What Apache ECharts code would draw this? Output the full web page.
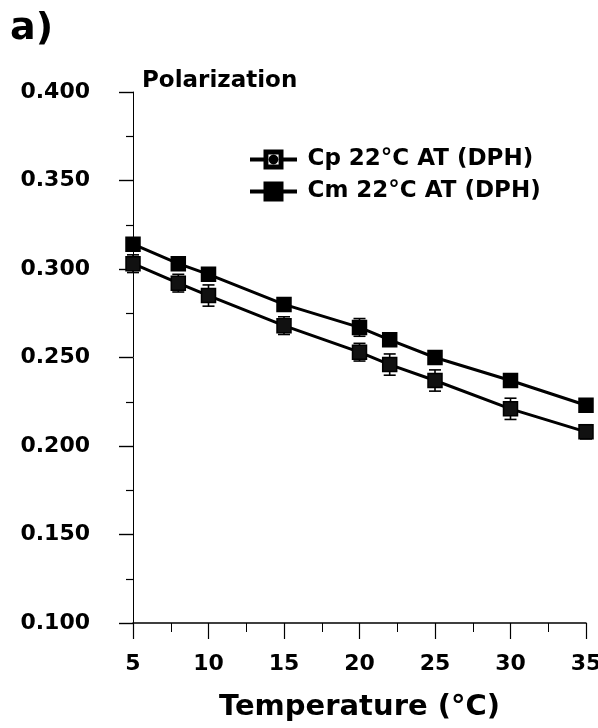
<!DOCTYPE html>
<html>
<head>
<meta charset="utf-8">
<script src="https://cdn.jsdelivr.net/npm/echarts@6/dist/echarts.min.js"></script>
<style>
  html, body { margin: 0; padding: 0; background: #fff; }
  #chart { width: 598px; height: 728px; }
</style>
</head>
<body>
<div id="chart"></div>
<script>
// Steady-state DPH fluorescence polarization versus temperature
const temps = [5, 8, 10, 15, 20, 22, 25, 30, 35];
const cpValues = [0.303, 0.292, 0.285, 0.268, 0.253, 0.246, 0.237, 0.221, 0.208];
const cmValues = [0.314, 0.303, 0.297, 0.280, 0.267, 0.260, 0.250, 0.237, 0.223];
const cpErr = [0.005, 0.005, 0.006, 0.005, 0.005, 0.006, 0.006, 0.006, 0.004];
const cmErr = [0.003, 0.003, 0.003, 0.003, 0.005, 0.003, 0.003, 0.003, 0.003];
const seriesNames = ['Cp 22°C AT (DPH)', 'Cm 22°C AT (DPH)'];
const xTicks = { min: 5, max: 35, step: 5 };
const yTicks = { min: 0.1, max: 0.4, step: 0.05 };

const FONT = 'DejaVu Sans';

const pairs = (vals) => temps.map((t, i) => [t, vals[i]]);
const errRows = (vals, errs) => temps.map((t, i) => [t, vals[i] - errs[i], vals[i] + errs[i]]);

// Vertical error bar with short caps
function errorBar(params, api) {
  const x = api.value(0);
  const lo = api.coord([x, api.value(1)]);
  const hi = api.coord([x, api.value(2)]);
  const half = 6;
  const style = { stroke: '#000', lineWidth: 1.6 };
  return {
    type: 'group',
    children: [
      { type: 'line', shape: { x1: lo[0], y1: lo[1], x2: hi[0], y2: hi[1] }, style },
      { type: 'line', shape: { x1: lo[0] - half, y1: lo[1], x2: lo[0] + half, y2: lo[1] }, style },
      { type: 'line', shape: { x1: hi[0] - half, y1: hi[1], x2: hi[0] + half, y2: hi[1] }, style }
    ]
  };
}

// Legend icons: line segment through a square marker
const cpIcon = 'path://M0,9.2H12V10.8H0Z M28,9.2H40V10.8H28Z M12,2H28V18H12Z M14.6,4.6V15.4H25.4V4.6Z M16.6,10A3.4,3.4 0 1,0 23.4,10A3.4,3.4 0 1,0 16.6,10Z';
const cmIcon = 'path://M0,9.2H12V10.8H0Z M28,9.2H40V10.8H28Z M12,2H28V18H12Z';

const chart = echarts.init(document.getElementById('chart'), null, { renderer: 'canvas' });

chart.setOption({
  backgroundColor: '#fff',
  animation: false,
  grid: { left: 133, right: 12, top: 92, bottom: 105, containLabel: false, outerBoundsMode: 'none' },
  legend: {
    orient: 'vertical',
    left: 245,
    top: 143,
    itemWidth: 54,
    itemHeight: 18,
    itemGap: 9,
    textStyle: { fontFamily: FONT, fontWeight: 'bold', fontSize: 23, color: '#000', padding: [0, 0, 0, 2] },
    data: [
      { name: seriesNames[0], icon: cpIcon, itemStyle: { color: '#000' } },
      { name: seriesNames[1], icon: cmIcon, itemStyle: { color: '#000' } }
    ]
  },
  xAxis: {
    type: 'value',
    min: xTicks.min,
    max: xTicks.max,
    interval: xTicks.step,
    name: 'Temperature (°C)',
    nameLocation: 'middle',
    nameGap: 70,
    nameTextStyle: { fontFamily: FONT, fontWeight: 'bold', fontSize: 29, color: '#000', verticalAlign: 'top' },
    axisLine: { show: true, onZero: false, lineStyle: { color: '#000', width: 1.5 } },
    axisTick: { show: true, inside: false, length: 16, lineStyle: { color: '#000', width: 1.2 } },
    minorTick: { show: true, splitNumber: 2, length: 9, lineStyle: { color: '#000', width: 1 } },
    splitLine: { show: false },
    axisLabel: { margin: 30, fontFamily: FONT, fontWeight: 'bold', fontSize: 22, color: '#000', formatter: (v) => String(v) }
  },
  yAxis: {
    type: 'value',
    min: yTicks.min,
    max: yTicks.max,
    interval: yTicks.step,
    axisLine: { show: true, onZero: false, lineStyle: { color: '#000', width: 1 } },
    axisTick: { show: true, inside: false, length: 14, lineStyle: { color: '#000', width: 1.4 } },
    minorTick: { show: true, splitNumber: 2, length: 7, lineStyle: { color: '#000', width: 1.2 } },
    splitLine: { show: false },
    axisLabel: { margin: 43, fontFamily: FONT, fontWeight: 'bold', fontSize: 22, color: '#000', formatter: (v) => v.toFixed(3) }
  },
  graphic: [
    { type: 'text', left: 10, top: 10, style: { text: 'a)', fontFamily: FONT, fontWeight: 'bold', fontSize: 38, fill: '#000' } },
    { type: 'text', left: 142, top: 70, style: { text: 'Polarization', fontFamily: FONT, fontWeight: 'bold', fontSize: 23, fill: '#000' } }
  ],
  series: [
    {
      type: 'custom',
      name: 'Cp error',
      renderItem: errorBar,
      data: errRows(cpValues, cpErr),
      encode: { x: 0, y: [1, 2] },
      z: 1,
      silent: true
    },
    {
      type: 'custom',
      name: 'Cm error',
      renderItem: errorBar,
      data: errRows(cmValues, cmErr),
      encode: { x: 0, y: [1, 2] },
      z: 1,
      silent: true
    },
    {
      type: 'line',
      name: seriesNames[0],
      data: pairs(cpValues),
      symbol: 'rect',
      symbolSize: 14,
      lineStyle: { color: '#000', width: 3 },
      itemStyle: { color: '#111', borderColor: '#000', borderWidth: 1.5 },
      z: 3
    },
    {
      type: 'line',
      name: seriesNames[1],
      data: pairs(cmValues),
      symbol: 'rect',
      symbolSize: 14,
      lineStyle: { color: '#000', width: 3 },
      itemStyle: { color: '#000', borderColor: '#000', borderWidth: 1.5 },
      z: 3
    }
  ]
});
</script>
</body>
</html>
